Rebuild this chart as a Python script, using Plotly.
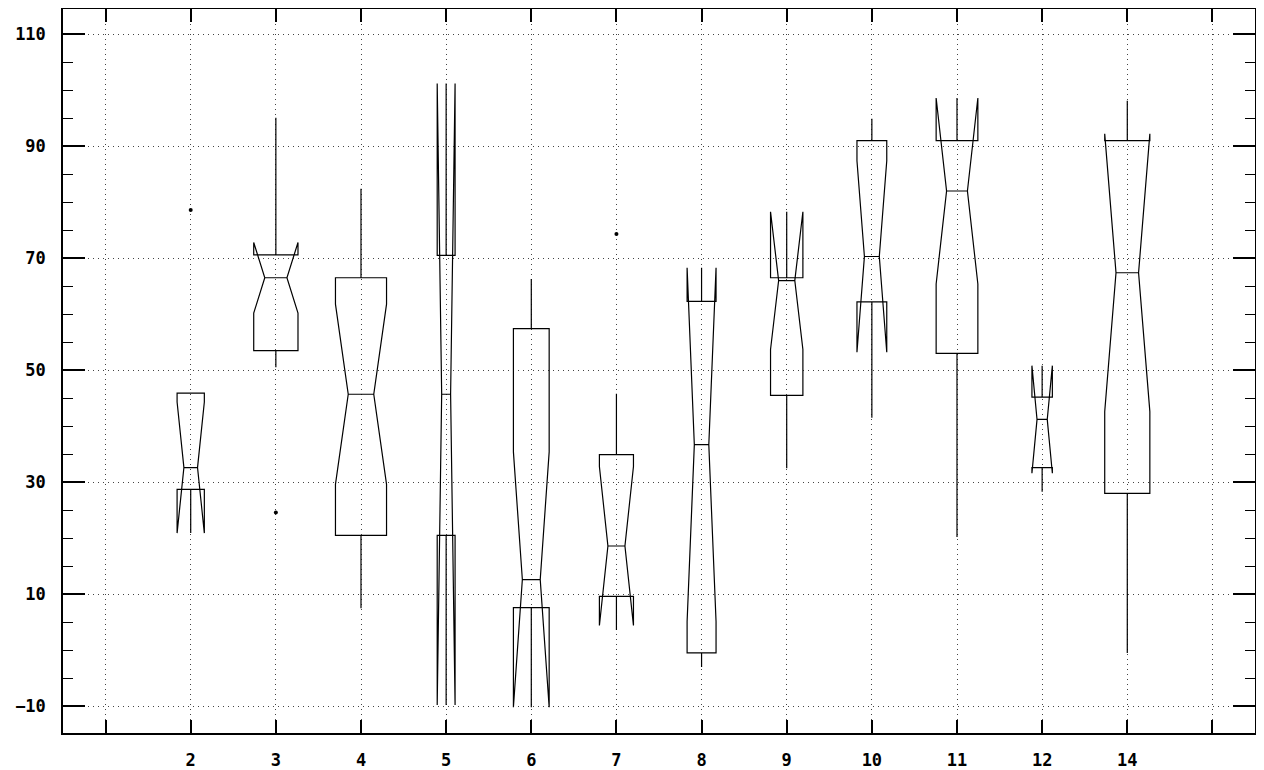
import plotly.graph_objects as go

# ---- data ----
categories = ["2", "3", "4", "5", "6", "7", "8", "9", "10", "11", "12", "14"]
q1 = [28.7, 53.5, 20.5, 20.5, 7.6, 9.6, -0.5, 45.5, 62.2, 53.0, 32.6, 28.0]
median = [32.6, 66.5, 45.7, 45.7, 12.6, 18.6, 36.7, 66.0, 70.3, 82.0, 41.2, 67.4]
q3 = [45.9, 70.6, 66.5, 70.5, 57.4, 34.9, 62.3, 66.5, 91.0, 91.0, 45.2, 91.0]
lowerfence = [22.6, 50.5, 7.5, 20.5, -10.0, 3.6, -3.0, 32.5, 41.5, 20.2, 28.3, -0.5]
upperfence = [45.9, 95.1, 82.4, 70.5, 66.3, 45.8, 66.5, 70.1, 94.9, 97.5, 45.2, 98.1]
notchspan = [11.7, 6.3, 16.1, 55.5, 22.8, 14.2, 31.6, 12.3, 17.1, 16.6, 9.6, 24.8]
outlier_cat = ["2", "3", "7"]
outlier_val = [78.6, 24.6, 74.3]
x_tick_labels = [""] + categories + [""]
y_tick_values = [-10, 10, 30, 50, 70, 90, 110]

# ---- style ----
box_widths = [0.32, 0.52, 0.60, 0.21, 0.42, 0.40, 0.34, 0.38, 0.35, 0.49, 0.24, 0.53]
slot = {c: i + 2 for i, c in enumerate(categories)}
font = dict(family="DejaVu Sans Mono", size=17, color="black", weight="bold")

fig = go.Figure()
for i, c in enumerate(categories):
    fig.add_trace(go.Box(
        x=[slot[c]], q1=[q1[i]], median=[median[i]], q3=[q3[i]],
        lowerfence=[lowerfence[i]], upperfence=[upperfence[i]],
        notchspan=[notchspan[i]], notched=True, notchwidth=0.25,
        width=box_widths[i], whiskerwidth=0,
        line=dict(color="black", width=1.2),
        fillcolor="rgba(0,0,0,0)", boxpoints=False,
        showlegend=False, hoverinfo="skip",
    ))

fig.add_trace(go.Scatter(
    x=[slot[c] for c in outlier_cat], y=outlier_val, mode="markers",
    marker=dict(color="black", size=4), showlegend=False, hoverinfo="skip",
))

fig.update_layout(
    width=1256, height=762,
    margin=dict(l=55, r=9, t=1, b=37),
    paper_bgcolor="white", plot_bgcolor="white",
    showlegend=False,
)
fig.update_xaxes(
    range=[0.5, 14.5], tickmode="array",
    tickvals=list(range(1, len(x_tick_labels) + 1)), ticktext=x_tick_labels,
    ticks="inside", ticklen=13, tickwidth=1.5, tickcolor="black",
    showline=True, linecolor="black", linewidth=1.5, mirror="allticks",
    showgrid=True, gridcolor="#444", gridwidth=1, griddash="1px,4px",
    zeroline=False, tickfont=font, ticklabelstandoff=11, automargin=False,
)
fig.update_yaxes(
    range=[-14.8, 114.5], tickmode="array", tickvals=y_tick_values,
    ticks="inside", ticklen=22, tickwidth=1.5, tickcolor="black",
    minor=dict(dtick=5, tick0=-10, ticks="inside", ticklen=10,
               tickwidth=1.2, tickcolor="black", showgrid=False),
    showline=True, linecolor="black", linewidth=1.5, mirror="allticks",
    showgrid=True, gridcolor="#444", gridwidth=1, griddash="1px,4px",
    zeroline=False, tickfont=font, ticklabelstandoff=12, automargin=False,
)

fig.write_html("out.html")
